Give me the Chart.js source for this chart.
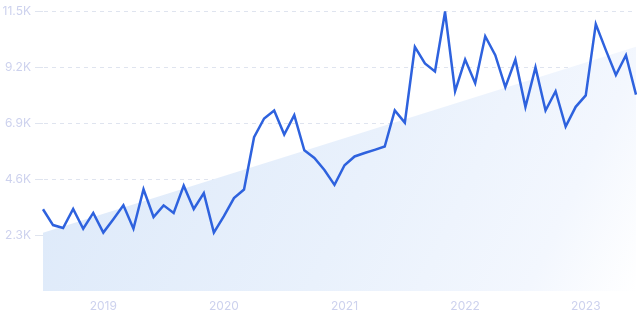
<!DOCTYPE html>
<html>
<head>
<meta charset="utf-8">
<script src="https://cdn.jsdelivr.net/npm/chart.js@4/dist/chart.umd.min.js"></script>
<style>
html,body{margin:0;padding:0;background:#fff;}
#wrap{width:639px;height:319px;position:relative;}
</style>
</head>
<body>
<div id="wrap"><canvas id="c" width="639" height="319"></canvas></div>
<script>
// Monthly categories Jul 2018 .. Jun 2023
const months = [
 "2018-07","2018-08","2018-09","2018-10","2018-11","2018-12",
 "2019-01","2019-02","2019-03","2019-04","2019-05","2019-06","2019-07","2019-08","2019-09","2019-10","2019-11","2019-12",
 "2020-01","2020-02","2020-03","2020-04","2020-05","2020-06","2020-07","2020-08","2020-09","2020-10","2020-11","2020-12",
 "2021-01","2021-02","2021-03","2021-04","2021-05","2021-06","2021-07","2021-08","2021-09","2021-10","2021-11","2021-12",
 "2022-01","2022-02","2022-03","2022-04","2022-05","2022-06","2022-07","2022-08","2022-09","2022-10","2022-11","2022-12",
 "2023-01","2023-02","2023-03","2023-04","2023-05","2023-06"
];
// Search volume, thousands
const volume = [
 3.36,2.71,2.59,3.37,2.56,3.21,
 2.40,2.95,3.52,2.56,4.18,3.04,3.52,3.21,4.33,3.37,4.02,2.40,
 3.08,3.82,4.17,6.32,7.09,7.42,6.43,7.23,5.78,5.47,4.97,4.36,
 5.17,5.53,5.67,5.80,5.94,7.42,6.92,10.03,9.35,9.02,11.47,8.21,
 9.51,8.54,10.47,9.69,8.38,9.51,7.56,9.19,7.42,8.21,6.76,7.57,
 8.04,10.97,9.90,8.88,9.69,8.07
];
// Trend line endpoints (thousands)
const trendStart = 2.39;
const trendEnd = 10.04;
const yTicks = [2.3, 4.6, 6.9, 9.2, 11.5];
const yearLabels = ["2019","2020","2021","2022","2023"];

const ctx = document.getElementById('c').getContext('2d');

function trendFill(context){
  const chart = context.chart;
  const a = chart.chartArea;
  if(!a) return '#e6effb';
  const g = chart.ctx.createLinearGradient(a.left, a.top, a.right, a.bottom);
  g.addColorStop(0, '#dbe8f9');
  g.addColorStop(0.55, '#e9f1fc');
  g.addColorStop(0.85, '#f3f7fe');
  g.addColorStop(1, '#ffffff');
  return g;
}

new Chart(ctx, {
  type: 'line',
  data: {
    labels: months,
    datasets: [
      {
        label: 'volume',
        data: volume,
        borderColor: '#2e62de',
        borderWidth: 2.5,
        pointRadius: 0,
        tension: 0,
        fill: false,
        order: 0
      },
      {
        label: 'trend',
        data: [{x: months[0], y: trendStart}, {x: months[months.length-1], y: trendEnd}],
        borderWidth: 0,
        borderColor: 'rgba(0,0,0,0)',
        pointRadius: 0,
        backgroundColor: trendFill,
        fill: 'origin',
        order: 1
      }
    ]
  },
  options: {
    responsive: false,
    animation: false,
    layout: { padding: { top: 7, right: 3, left: 0, bottom: 0 } },
    plugins: { legend: { display: false }, tooltip: { enabled: false } },
    scales: {
      x: {
        type: 'category',
        offset: false,
        grid: { display: false, drawTicks: false },
        border: { display: false },
        ticks: {
          autoSkip: false,
          maxRotation: 0,
          padding: 8,
          color: '#cdd2ee',
          font: { family: 'Inter', size: 12 },
          callback: function(v){
            const l = months[v];
            if (l.endsWith('-01')) { const y = l.slice(0,4); return yearLabels.includes(y) ? y : null; }
            return null;
          }
        },
        afterFit: function(s){ s.height = 28; }
      },
      y: {
        min: 0, max: 11.5,
        afterBuildTicks: function(s){ s.ticks = yTicks.map(v => ({value: v})); },
        grid: {
          color: '#dfe4ef',
          lineWidth: 1,
          drawTicks: true,
          tickLength: 8,
          tickColor: '#dfe4ef'
        },
        border: { display: true, color: 'rgba(0,0,0,0)', dash: [4,4] },
        ticks: {
          padding: 4,
          color: '#cdd2ee',
          font: { family: 'Inter', size: 12 },
          callback: function(v){ return v.toFixed(1) + 'K'; }
        },
        afterFit: function(s){ s.width = 43; }
      }
    }
  }
});
</script>
</body>
</html>
